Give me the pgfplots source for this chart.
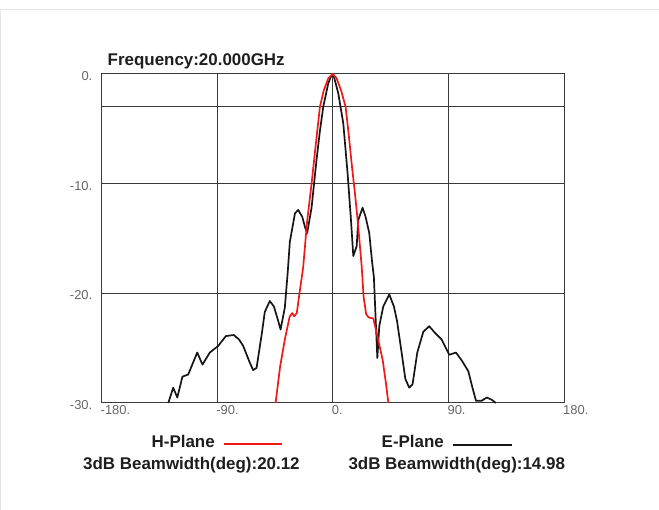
\documentclass[border=0pt]{standalone}
\usepackage{pgfplots}
\pgfplotsset{compat=1.18}
\usepackage{fontspec}
\setmainfont{Liberation Sans}
\definecolor{gridc}{HTML}{3A3A3A}
\definecolor{tickc}{HTML}{666666}
\definecolor{txtc}{HTML}{1E1E1E}
\definecolor{hred}{HTML}{F01818}
\definecolor{eblk}{HTML}{161616}
\begin{document}
\begin{tikzpicture}[x=1bp,y=1bp]
\useasboundingbox (0,0) rectangle (659,510);
\draw[gray!20, line width=1bp] (0.5,0) -- (0.5,500) -- (659,500);
\begin{axis}[
  at={(101.5bp,107bp)}, anchor=south west,
  scale only axis, width=462.5bp, height=329bp,
  xmin=-180, xmax=180, ymin=-30, ymax=0,
  xtick={-180,-90,0,90,180},
  xticklabels={-180.,-90.,0.,90.,180.},
  ytick={-30,-20,-10,-3,0},
  yticklabels={-30.,-20.,-10.,,0.},
  major tick length=0pt,
  grid=major,
  grid style={gridc, line width=1bp},
  axis line style={gridc, line width=1bp},
  tick label style={font=\fontsize{13}{14}\selectfont, text=tickc},
  xticklabel style={anchor=north west, inner sep=0pt, yshift=-2bp, xshift=-1bp},
  yticklabel style={anchor=east, inner sep=0pt, xshift=-9bp, yshift=-2bp},
  clip=false,
  /pgf/number format/assume math mode=true,
]
\addplot[eblk, line width=1.7bp, line join=round] coordinates {
(-128,-30) (-124.2,-28.6) (-121,-29.5) (-117,-27.6) (-112.5,-27.4) (-105.5,-25.4)
(-101.4,-26.5) (-95.7,-25.4) (-89.2,-24.8) (-83.2,-23.9) (-77,-23.8) (-73,-24.2)
(-69.7,-24.8) (-65,-26.2) (-62,-27.0) (-59.3,-26.8) (-55,-23.5) (-52.9,-21.7)
(-49,-20.7) (-45.8,-21.2) (-42.5,-22.5) (-40.6,-23.3) (-37.3,-21.3) (-35,-18)
(-33.4,-15.3) (-29.4,-12.7) (-26.9,-12.4) (-23.8,-13.0) (-21.5,-14.0) (-19.9,-14.5)
(-16.5,-12.2) (-12.6,-7.8) (-10,-5.2) (-7.4,-3.0) (-3.5,-0.85) (-0.9,-0.1)
(0.9,-0.24) (4.3,-1.76) (8.2,-4.5) (11.5,-9) (14,-13) (16,-16.6) (18.6,-15.7)
(19.9,-13.3) (23.2,-12.2) (25.5,-13) (28.4,-14.5) (30.5,-17) (32,-18.5)
(34.7,-25.9) (36.2,-23.0) (39.3,-21.2) (44,-20.1) (47.6,-21.2) (50,-22.5)
(53.6,-25.4) (56.5,-27.8) (59.5,-28.6) (62.1,-28.3) (65.8,-25.4) (70.5,-23.5)
(75.1,-23.0) (79.5,-23.6) (84.7,-24.2) (90.7,-25.6) (95.9,-25.4) (100.3,-26.1)
(105.5,-27.1) (108.5,-28.5) (111.5,-29.8) (115.9,-29.8) (119.8,-29.5)
(123.7,-29.7) (127,-30)
};
\addplot[hred, line width=1.7bp, line join=round] coordinates {
(-44.5,-30) (-41,-26.7) (-37.3,-24.2) (-33.5,-22.1) (-31.5,-21.8) (-30,-22.1)
(-28,-21.8) (-26.5,-20.5) (-23,-17.6) (-20,-13.5) (-16.5,-10.0) (-13,-6.2)
(-10,-3.0) (-7,-1.5) (-3.5,-0.4) (0,0) (3,-0.4) (6.5,-1.5) (10,-3.0)
(12.5,-5.6) (15,-8.5) (17.3,-10.9) (19.5,-13.5) (22.5,-17.5) (24,-20.3)
(26,-21.9) (28,-22.2) (31.6,-22.3) (34.7,-23.9) (38.9,-26.1) (41.5,-28.3) (43.3,-30)
};
\end{axis}
\begin{scope}[every node/.style={inner sep=0pt, anchor=base west, text=txtc, font=\fontsize{17}{20}\selectfont\bfseries}]
\node at (107.5,444) {Frequency:20.000GHz};
\node at (151.5,62.3) {H-Plane};
\node at (83,40) {3dB Beamwidth(deg):20.12};
\node at (381.5,62.3) {E-Plane};
\node at (348.3,40) {3dB Beamwidth(deg):14.98};
\end{scope}
\draw[hred, line width=1.8bp] (224,66) -- (281.7,66);
\draw[eblk, line width=1.8bp] (453,65) -- (511.7,65);
\end{tikzpicture}
\end{document}
